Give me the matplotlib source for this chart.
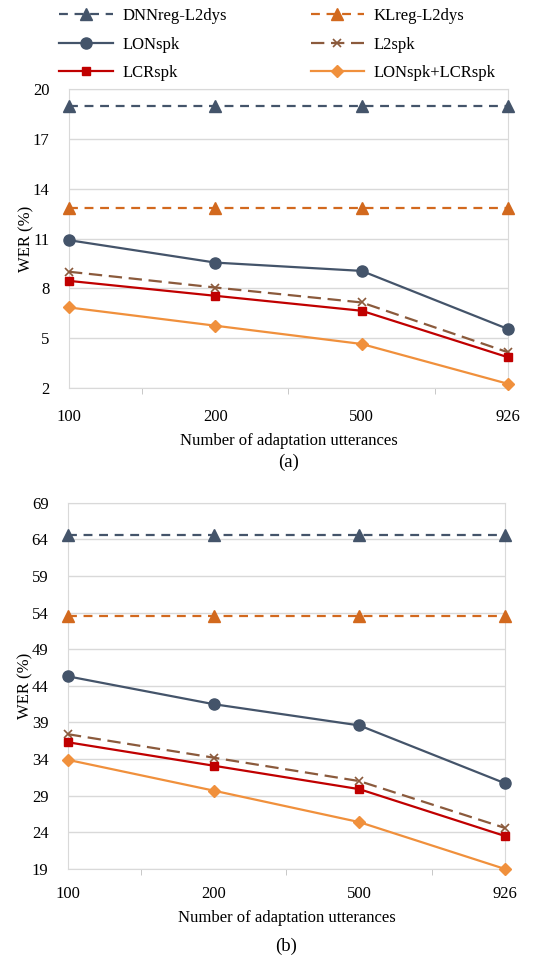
import numpy as np
import matplotlib.pyplot as plt
from matplotlib.lines import Line2D

plt.rcParams['font.family'] = ['Liberation Serif', 'DejaVu Serif']

# x categories (number of adaptation utterances)
utts = ['100', '200', '500', '926']

# panel (a) WER (%)
a_dnn = [19.0, 19.0, 19.0, 19.0]
a_kl = [12.85, 12.85, 12.85, 12.85]
a_lon = [10.9, 9.55, 9.05, 5.55]
a_l2 = [9.0, 8.05, 7.15, 4.15]
a_lcr = [8.45, 7.55, 6.65, 3.85]
a_both = [6.85, 5.75, 4.65, 2.25]

# panel (b) WER (%)
b_dnn = [64.6, 64.6, 64.6, 64.6]
b_kl = [53.5, 53.5, 53.5, 53.5]
b_lon = [45.3, 41.5, 38.6, 30.7]
b_l2 = [37.4, 34.2, 31.0, 24.6]
b_lcr = [36.3, 33.1, 29.9, 23.5]
b_both = [33.9, 29.7, 25.4, 19.0]

names = ['DNNreg-L2dys', 'KLreg-L2dys', 'LONspk', 'L2spk', 'LCRspk', 'LONspk+LCRspk']
styles = [
    dict(color='#44546A', ls=(0, (4, 3)), marker='^', ms=8),
    dict(color='#D2691E', ls=(0, (4, 3)), marker='^', ms=8),
    dict(color='#44546A', ls='-', marker='o', ms=8),
    dict(color='#8B5A3C', ls=(0, (6, 3)), marker='x', ms=5.5, mew=1.2),
    dict(color='#C00000', ls='-', marker='s', ms=6),
    dict(color='#F0903C', ls='-', marker='D', ms=6),
]

fig = plt.figure(figsize=(5.39, 9.69), dpi=100)
ax_a = fig.add_axes([0.128, 0.5996, 0.8145, 0.3085])
ax_b = fig.add_axes([0.126, 0.1032, 0.811, 0.378])

x = np.arange(len(utts))


def draw(ax, series, yticks, label, xpad):
    for ys, st in zip(series, styles):
        ax.plot(x, ys, lw=1.6, mec=st['color'], mfc=st['color'], clip_on=False, zorder=3, **st)
    ax.set_xlim(0, 3)
    ax.set_ylim(yticks[0], yticks[-1])
    ax.set_yticks(yticks)
    ax.set_xticks(x)
    ax.set_xticklabels(utts)
    ax.set_xticks([0.5, 1.5, 2.5], minor=True)
    ax.tick_params(axis='y', which='major', length=0, labelsize=12, pad=14)
    ax.tick_params(axis='x', which='major', length=0, labelsize=12, pad=xpad)
    ax.tick_params(axis='x', which='minor', length=4, color='#BFBFBF', direction='out')
    ax.grid(axis='y', color='#D9D9D9', lw=1)
    for s in ax.spines.values():
        s.set_color('#D9D9D9')
    ax.set_ylabel('WER (%)', fontsize=12, labelpad=-1)
    ax.set_xlabel('Number of adaptation utterances', fontsize=12, labelpad=6)
    ax.text(0.5, label[1], label[0], transform=ax.transAxes, ha='center', va='center', fontsize=13.5)


draw(ax_a, [a_dnn, a_kl, a_lon, a_l2, a_lcr, a_both], [2, 5, 8, 11, 14, 17, 20], ('(a)', -0.25), 15)
draw(ax_b, [b_dnn, b_kl, b_lon, b_l2, b_lcr, b_both], list(range(19, 70, 5)), ('(b)', -0.21), 12)

# legend rows read left to right: reorder for column-wise filling
order = [0, 2, 4, 1, 3, 5]
handles = [Line2D([], [], lw=1.6, mec=styles[i]['color'], mfc=styles[i]['color'], **styles[i]) for i in order]
fig.legend(handles, [names[i] for i in order], loc='upper center', bbox_to_anchor=(0.515, 1.007), ncol=2,
           frameon=False, fontsize=12, columnspacing=5.0, handlelength=3.2,
           labelspacing=0.75, handletextpad=0.6)

fig.savefig('out.png', dpi=100)
